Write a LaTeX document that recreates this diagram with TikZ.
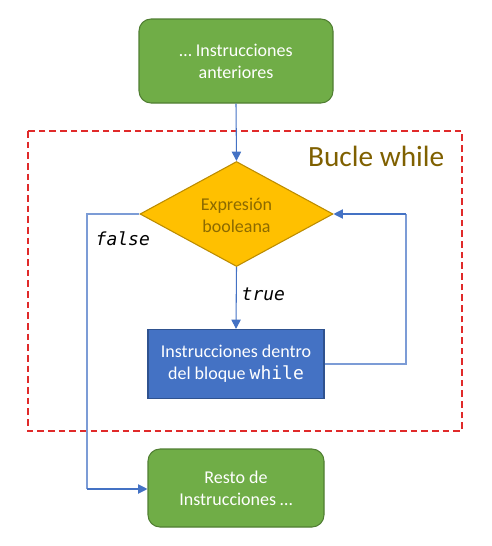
\documentclass[tikz,border=0pt]{standalone}
\usepackage{fontspec}
\setmainfont{Carlito}
\setmonofont{DejaVu Sans Mono}
\usetikzlibrary{shapes.geometric,arrows.meta}
\definecolor{gfill}{HTML}{70AD47}
\definecolor{gdraw}{HTML}{507E32}
\definecolor{yfill}{HTML}{FFC000}
\definecolor{ydraw}{HTML}{BC8C00}
\definecolor{ytext}{HTML}{8C6A00}
\definecolor{bfill}{HTML}{4472C4}
\definecolor{bdraw}{HTML}{2F528F}
\definecolor{conn}{HTML}{4472C4}
\definecolor{redd}{HTML}{E02A2A}
\definecolor{titlec}{HTML}{7F6000}
\tikzset{
  boxfont/.style={font=\fontsize{13.5}{16.5}\selectfont},
  greenbox/.style={draw=gdraw, fill=gfill, rounded corners=9pt, line width=0.8pt,
    text=white, align=center, boxfont, inner sep=0pt},
  bluebox/.style={draw=bdraw, fill=bfill, line width=0.8pt, text=white, align=center,
    boxfont, inner sep=0pt},
  decision/.style={diamond, draw=ydraw, fill=yfill, line width=0.8pt, inner sep=0pt},
  conn/.style={draw=conn, line width=0.8pt, -{Triangle[length=7pt,width=7pt]}},
  connline/.style={draw=conn!70, line width=0.8pt},
  lab/.style={font=\ttfamily\itshape\fontsize{13.5}{16}\selectfont, text=black},
}
\begin{document}
\begin{tikzpicture}[x=0.75pt,y=-0.75pt]
\useasboundingbox (0,0) rectangle (492,546);
% dashed loop frame
\draw[redd, dashed, line width=1pt, dash pattern=on 5pt off 3pt] (28,131) rectangle (462,431);
\node[text=titlec, font=\fontsize{22}{26}\selectfont, anchor=east] (title) at (449,156) {Bucle while};
% nodes
\node[greenbox, minimum width=194*0.75pt, minimum height=84*0.75pt] (prev) at (236,61) {… Instrucciones\\anteriores};
\node[decision, minimum width=193*0.75pt, minimum height=105*0.75pt, aspect=1.84] (cond) at (236.5,214) {};
\node[text=ytext, align=center, boxfont] (condtext) at (236.5,215) {Expresión\\booleana};
\node[bluebox, minimum width=176*0.75pt, minimum height=69*0.75pt] (body) at (236,364) {Instrucciones dentro\\del bloque \texttt{while}};
\node[greenbox, minimum width=176*0.75pt, minimum height=78*0.75pt] (rest) at (236,488) {Resto de\\Instrucciones …};
% helper coordinates
\coordinate (loopR) at (406,364);
\coordinate (loopT) at (406,214);
\coordinate (falseT) at (87,214);
\coordinate (falseB) at (87,489);
% connectors
\draw[conn] (prev.south) -- (cond.north);
\draw[conn] (cond.south) -- (body.north);
\draw[connline] (body.east) -- (loopR) -- (loopT);
\draw[conn] (loopT) -- (cond.east);
\draw[connline] (cond.west) -- (falseT) -- (falseB);
\draw[conn] (falseB) -- (rest.west |- falseB);
% labels
\node[lab, anchor=west] (lfalse) at (91,239) {false};
\node[lab, anchor=west] (ltrue) at (237,294) {true};
\end{tikzpicture}
\end{document}
